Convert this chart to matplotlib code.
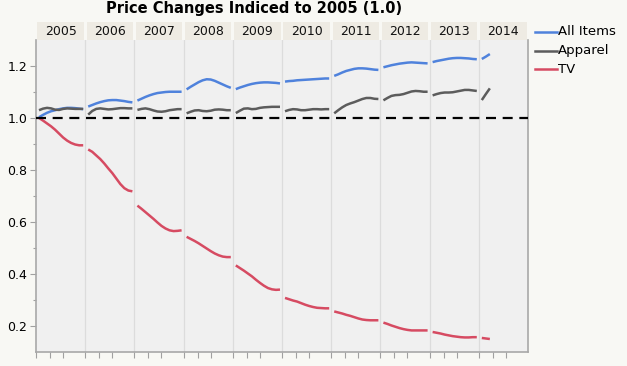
import matplotlib
matplotlib.use("Agg")
import matplotlib.pyplot as plt
from matplotlib.lines import Line2D
from matplotlib.patches import Rectangle
import matplotlib.transforms as mtransforms

years = ["2005", "2006", "2007", "2008", "2009", "2010", "2011", "2012", "2013", "2014"]

# Monthly index values (Jan..Dec) per year
all_items = {
    "2005": [1.003, 1.012, 1.020, 1.026, 1.030, 1.034, 1.037, 1.039, 1.039, 1.038, 1.036, 1.034],
    "2006": [1.044, 1.050, 1.056, 1.061, 1.065, 1.068, 1.069, 1.069, 1.067, 1.065, 1.062, 1.060],
    "2007": [1.067, 1.074, 1.081, 1.087, 1.092, 1.096, 1.098, 1.100, 1.101, 1.101, 1.101, 1.101],
    "2008": [1.110, 1.120, 1.129, 1.138, 1.145, 1.149, 1.148, 1.143, 1.136, 1.129, 1.122, 1.116],
    "2009": [1.111, 1.117, 1.122, 1.127, 1.131, 1.134, 1.136, 1.137, 1.137, 1.136, 1.135, 1.133],
    "2010": [1.140, 1.142, 1.143, 1.145, 1.146, 1.147, 1.148, 1.149, 1.150, 1.151, 1.152, 1.152],
    "2011": [1.162, 1.168, 1.175, 1.181, 1.185, 1.189, 1.191, 1.191, 1.190, 1.188, 1.186, 1.185],
    "2012": [1.195, 1.199, 1.203, 1.206, 1.209, 1.211, 1.213, 1.214, 1.213, 1.212, 1.211, 1.210],
    "2013": [1.215, 1.219, 1.222, 1.225, 1.228, 1.230, 1.231, 1.231, 1.230, 1.229, 1.227, 1.226],
    "2014": [1.227, 1.236, 1.246],
}
apparel = {
    "2005": [1.030, 1.036, 1.039, 1.037, 1.032, 1.031, 1.035, 1.037, 1.036, 1.035, 1.035, 1.035],
    "2006": [1.013, 1.027, 1.035, 1.037, 1.035, 1.033, 1.034, 1.036, 1.038, 1.038, 1.037, 1.037],
    "2007": [1.031, 1.035, 1.037, 1.034, 1.029, 1.025, 1.024, 1.026, 1.030, 1.032, 1.034, 1.034],
    "2008": [1.018, 1.024, 1.029, 1.030, 1.027, 1.026, 1.028, 1.032, 1.033, 1.032, 1.030, 1.030],
    "2009": [1.019, 1.028, 1.036, 1.037, 1.034, 1.035, 1.039, 1.041, 1.042, 1.043, 1.043, 1.043],
    "2010": [1.026, 1.031, 1.034, 1.033, 1.030, 1.030, 1.032, 1.034, 1.034, 1.033, 1.034, 1.034],
    "2011": [1.018, 1.030, 1.041, 1.050, 1.056, 1.061, 1.067, 1.073, 1.077, 1.077, 1.074, 1.073],
    "2012": [1.068, 1.077, 1.085, 1.088, 1.089, 1.092, 1.097, 1.102, 1.104, 1.103, 1.101, 1.101],
    "2013": [1.087, 1.092, 1.096, 1.098, 1.098, 1.099, 1.102, 1.105, 1.108, 1.108, 1.106, 1.104],
    "2014": [1.069, 1.092, 1.114],
}
tv = {
    "2005": [1.000, 0.990, 0.979, 0.968, 0.955, 0.940, 0.925, 0.913, 0.904, 0.898, 0.895, 0.895],
    "2006": [0.879, 0.870, 0.856, 0.842, 0.825, 0.806, 0.788, 0.767, 0.746, 0.730, 0.721, 0.718],
    "2007": [0.663, 0.651, 0.638, 0.625, 0.612, 0.598, 0.585, 0.575, 0.568, 0.565, 0.566, 0.568],
    "2008": [0.543, 0.535, 0.527, 0.518, 0.508, 0.498, 0.488, 0.479, 0.472, 0.467, 0.465, 0.465],
    "2009": [0.433, 0.423, 0.413, 0.402, 0.391, 0.378, 0.366, 0.355, 0.346, 0.341, 0.339, 0.340],
    "2010": [0.308, 0.303, 0.298, 0.294, 0.288, 0.282, 0.277, 0.273, 0.270, 0.269, 0.268, 0.268],
    "2011": [0.256, 0.252, 0.248, 0.243, 0.239, 0.234, 0.229, 0.225, 0.223, 0.222, 0.222, 0.222],
    "2012": [0.213, 0.208, 0.202, 0.197, 0.192, 0.188, 0.185, 0.183, 0.183, 0.183, 0.183, 0.183],
    "2013": [0.177, 0.174, 0.171, 0.167, 0.164, 0.161, 0.159, 0.157, 0.156, 0.156, 0.157, 0.157],
    "2014": [0.154, 0.152, 0.150],
}

series = [("All Items", all_items, "#4f82dc"),
          ("Apparel", apparel, "#5c5c5c"),
          ("TV", tv, "#d64b62")]

W, H = 627, 366
fig = plt.figure(figsize=(W / 100, H / 100), dpi=100)
fig.patch.set_facecolor("#f8f8f4")

left, right, top, bottom = 36, 528, 40, 352
ax = fig.add_axes([left / W, (H - bottom) / H, (right - left) / W, (bottom - top) / H])
ax.set_facecolor("#f0f0f0")

def xpos(i, m):
    return i + (m - 0.25) / 12.25

for name, data, color in series:
    for i, y in enumerate(years):
        vals = data[y]
        xs = [xpos(i, m + 1) for m in range(len(vals))]
        ax.plot(xs, vals, color=color, lw=1.8, solid_capstyle="butt", zorder=3)

ax.axhline(1.0, color="black", lw=1.6, dashes=(4.5, 3), zorder=4)

for i in range(1, len(years)):
    ax.axvline(i, color="#dcdcdc", lw=0.9, zorder=1)

ax.set_xlim(0, len(years))
ax.set_ylim(0.1, 1.3)
ax.set_yticks([0.2, 0.4, 0.6, 0.8, 1.0, 1.2])
ax.set_yticklabels(["0.2", "0.4", "0.6", "0.8", "1.0", "1.2"])
ax.set_yticks([0.3, 0.5, 0.7, 0.9, 1.1], minor=True)
xt = []
for i in range(len(years)):
    xt += [i, i + 0.284, i + 0.548]
ax.set_xticks(xt)
ax.set_xticklabels([])
ax.tick_params(axis="y", which="major", length=4.3, width=0.8, color="#a0a0a0",
               labelsize=9, pad=2)
ax.tick_params(axis="y", which="minor", length=2.2, width=0.8, color="#a0a0a0")
ax.tick_params(axis="x", which="major", length=4.5, width=0.8, color="#a0a0a0")
for s in ["left", "bottom", "right"]:
    ax.spines[s].set_color("#a8a8a8")
    ax.spines[s].set_linewidth(1.2)
ax.spines["top"].set_visible(False)

# Year header band
trans = mtransforms.blended_transform_factory(ax.transData, ax.transAxes)
hh = 17.7 / (bottom - top)
for i, y in enumerate(years):
    r = Rectangle((i + 0.03, 1.0), 0.94, hh, transform=trans, clip_on=False,
                  facecolor="#eeebe3", edgecolor="none", zorder=2)
    ax.add_patch(r)
    ax.text(i + 0.5, 1.0 + hh / 2, y, transform=trans, ha="center", va="center",
            fontsize=9, color="#111111", clip_on=False)

# Title
fig.text(254 / W, 1 - 8 / H, "Price Changes Indiced to 2005 (1.0)", ha="center",
         va="center", fontsize=10.5, fontweight="bold")

# Legend
for k, (name, data, color) in enumerate(series):
    yy = 1 - (31.7 + k * 18.8) / H
    fig.add_artist(Line2D([535 / W, 557 / W], [yy, yy], color=color, lw=1.8,
                          transform=fig.transFigure))
    fig.text(558 / W, yy, name, ha="left", va="center", fontsize=9.5)

fig.savefig("out.png", dpi=100, facecolor=fig.get_facecolor())
